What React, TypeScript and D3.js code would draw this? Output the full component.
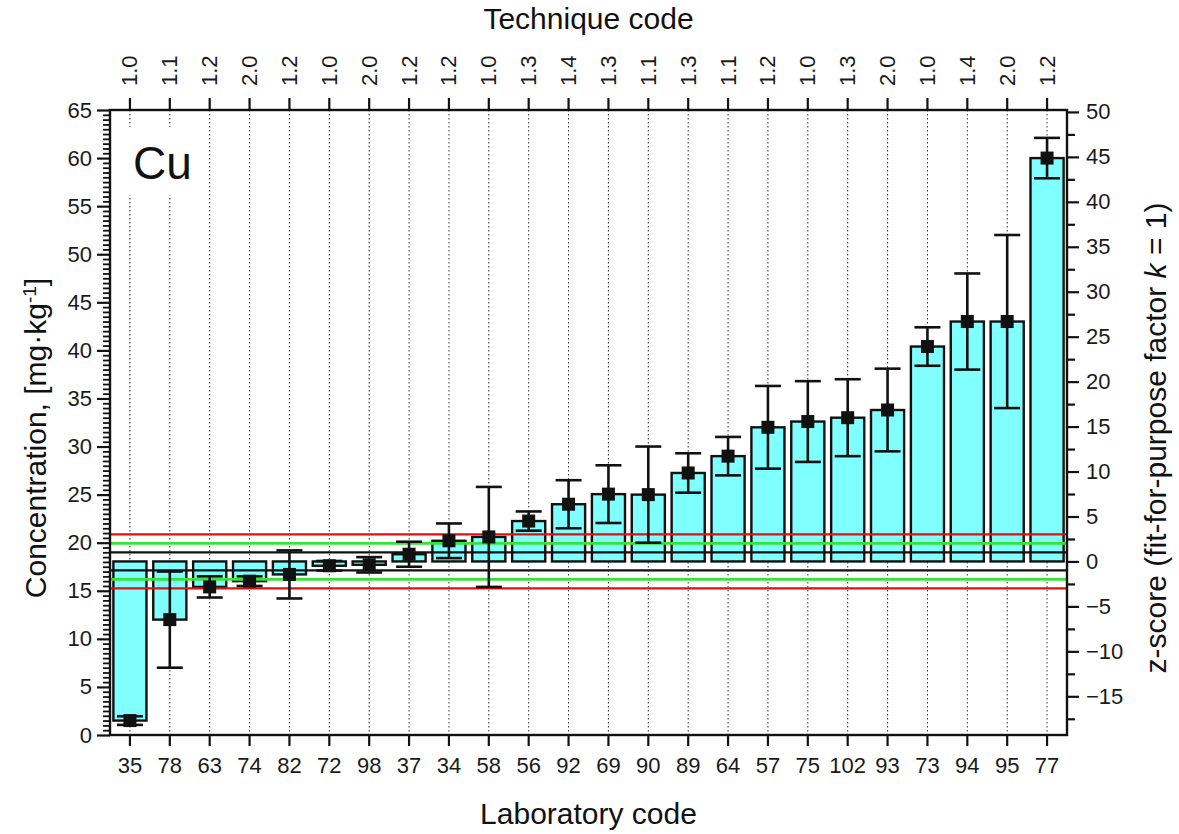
import { useEffect, useRef } from 'react'
import * as d3 from 'd3'

// lab codes along the bottom, sorted by reported result
const LAB_CODES = ['35', '78', '63', '74', '82', '72', '98', '37', '34', '58', '56', '92',
  '69', '90', '89', '64', '57', '75', '102', '93', '73', '94', '95', '77']

// technique code per lab (top axis)
const TECH_CODES = ['1.0', '1.1', '1.2', '2.0', '1.2', '1.0', '2.0', '1.2', '1.2', '1.0', '1.3', '1.4',
  '1.3', '1.1', '1.3', '1.1', '1.2', '1.0', '1.3', '2.0', '1.0', '1.4', '2.0', '1.2']

// reported Cu concentration, mg/kg
const RESULTS = [1.5, 12.0, 15.4, 16.0, 16.7, 17.6, 17.7, 18.8, 20.2, 20.6, 22.25, 24.0,
  25.05, 25.0, 27.25, 29.0, 32.0, 32.6, 33.0, 33.8, 40.4, 43.0, 43.0, 60.0]

// expanded uncertainty reported by each lab
const UNCERTAINTY = [0.45, 5.0, 1.1, 0.5, 2.5, 0.5, 0.8, 1.3, 1.8, 5.2, 1.0, 2.5,
  3.0, 5.0, 2.05, 2.0, 4.3, 4.2, 4.0, 4.3, 2.0, 5.0, 9.0, 2.1]

const ASSIGNED = 18.05   // assigned value (z = 0)
const SIGMA = 0.935      // standard deviation for proficiency assessment

// horizontal reference lines, in z units
const REF_Z = [1, 2, 3]
const REF_COLOR = ['#111111', '#36e436', '#e01010']

const CONC_TICKS = d3.range(0, 66, 5)
const Z_TICKS = d3.range(-15, 51, 5)

export default function App() {
  const svgRef = useRef<SVGSVGElement>(null)
  const WIDTH = 1179
  const HEIGHT = 834
  const L = 110, R = 1067, T = 110, B = 735

  useEffect(() => {
    if (!svgRef.current) return
    const svg = d3.select(svgRef.current)
    svg.selectAll('*').remove()
    const font = '"Liberation Sans", Arial, sans-serif'

    const x = d3.scaleBand<string>().domain(LAB_CODES).range([L, R])
      .paddingInner(0.17).paddingOuter(0.085)
    const y = d3.scaleLinear().domain([0, 65]).range([B, T])
    const z = d3.scaleLinear()
      .domain([(0 - ASSIGNED) / SIGMA, (65 - ASSIGNED) / SIGMA])
      .range([B, T])
    const cx = (c: string) => (x(c) ?? 0) + x.bandwidth() / 2
    const y0 = y(ASSIGNED)

    // dotted verticals at each lab
    LAB_CODES.forEach(c => {
      svg.append('line').attr('x1', cx(c)).attr('x2', cx(c)).attr('y1', T).attr('y2', B)
        .attr('stroke', '#444').attr('stroke-width', 1.1).attr('stroke-dasharray', '1.5 2.5')
    })

    // element label with white background
    svg.append('rect').attr('x', 118).attr('y', 127).attr('width', 84).attr('height', 68)
      .attr('fill', '#fff')
    svg.append('text').attr('x', 133).attr('y', 179).attr('font-family', font)
      .attr('font-size', 46).attr('fill', '#111').text('Cu')

    // bars from assigned value
    LAB_CODES.forEach((c, i) => {
      const yv = y(RESULTS[i])
      svg.append('rect')
        .attr('x', x(c)!).attr('width', x.bandwidth())
        .attr('y', Math.min(yv, y0)).attr('height', Math.abs(yv - y0))
        .attr('fill', '#80ffff').attr('stroke', '#111').attr('stroke-width', 2.4)
    })

    // reference lines: ±1, ±2, ±3 z
    REF_Z.forEach((zz, k) => {
      ;[zz, -zz].forEach(v => {
        svg.append('line').attr('x1', L).attr('x2', R).attr('y1', z(v)).attr('y2', z(v))
          .attr('stroke', REF_COLOR[k]).attr('stroke-width', k === 1 ? 2.8 : 2.3)
      })
    })

    // error bars + markers
    LAB_CODES.forEach((c, i) => {
      const px = cx(c)
      const hi = y(RESULTS[i] + UNCERTAINTY[i])
      const lo = y(RESULTS[i] - UNCERTAINTY[i])
      const eb = svg.append('g').attr('stroke', '#111').attr('stroke-width', 2.6)
      eb.append('line').attr('x1', px).attr('x2', px).attr('y1', hi).attr('y2', lo)
      eb.append('line').attr('x1', px - 13).attr('x2', px + 13).attr('y1', hi).attr('y2', hi)
      eb.append('line').attr('x1', px - 13).attr('x2', px + 13).attr('y1', lo).attr('y2', lo)
      svg.append('rect').attr('x', px - 6.5).attr('y', y(RESULTS[i]) - 6.5)
        .attr('width', 13).attr('height', 13).attr('fill', '#111')
    })

    // frame
    svg.append('rect').attr('x', L).attr('y', T).attr('width', R - L).attr('height', B - T)
      .attr('fill', 'none').attr('stroke', '#111').attr('stroke-width', 2.4)

    const styleAxis = (g: d3.Selection<SVGGElement, unknown, null, undefined>, w: number) => {
      g.attr('font-family', font).attr('font-size', 22)
      g.select('.domain').remove()
      g.selectAll('.tick line').attr('stroke', '#111').attr('stroke-width', w)
      g.selectAll('.tick text').attr('fill', '#1a1a1a')
    }

    // left axis
    svg.append('g').attr('transform', `translate(${L},0)`)
      .call(d3.axisLeft(y).tickValues(d3.range(0.5, 65, 0.5).filter(v => v % 5 !== 0))
        .tickSize(7).tickFormat(() => ''))
      .call(g => styleAxis(g, 1.8))
    svg.append('g').attr('transform', `translate(${L},0)`)
      .call(d3.axisLeft(y).tickValues(CONC_TICKS).tickSize(13).tickPadding(5))
      .call(g => styleAxis(g, 2.2))

    // right axis (z-score)
    svg.append('g').attr('transform', `translate(${R},0)`)
      .call(d3.axisRight(z).tickValues(d3.range(-17.5, 50, 5)).tickSize(8).tickFormat(() => ''))
      .call(g => styleAxis(g, 2.2))
    svg.append('g').attr('transform', `translate(${R},0)`)
      .call(d3.axisRight(z).tickValues(Z_TICKS).tickSize(12).tickPadding(7))
      .call(g => styleAxis(g, 2.2))

    // bottom axis
    svg.append('g').attr('transform', `translate(0,${B})`)
      .call(d3.axisBottom(x).tickSize(11).tickPadding(11))
      .call(g => styleAxis(g, 2.2))

    // top axis: technique codes
    svg.append('g').attr('transform', `translate(0,${T})`)
      .call(d3.axisTop(x).tickSize(12).tickFormat((_, i) => TECH_CODES[i]))
      .call(g => styleAxis(g, 2.2))
      .call(g => g.selectAll('.tick text')
        .attr('y', 0).attr('dy', null).attr('x', 24)
        .attr('transform', 'rotate(-90)')
        .attr('text-anchor', 'start').attr('dominant-baseline', 'central'))

    // titles
    svg.append('text').attr('x', (L + R) / 2).attr('y', 29).attr('text-anchor', 'middle')
      .attr('font-family', font).attr('font-size', 30).attr('fill', '#111').text('Technique code')
    svg.append('text').attr('x', (L + R) / 2).attr('y', 824).attr('text-anchor', 'middle')
      .attr('font-family', font).attr('font-size', 30).attr('fill', '#111').text('Laboratory code')

    const yl = svg.append('text').attr('transform', 'translate(46,438) rotate(-90)')
      .attr('text-anchor', 'middle').attr('font-family', font).attr('font-size', 30).attr('fill', '#111')
    yl.append('tspan').text('Concentration, [mg·kg')
    yl.append('tspan').attr('font-size', 19).attr('baseline-shift', 'super').text('-1')
    yl.append('tspan').text(']')

    const zl = svg.append('text').attr('transform', 'translate(1166,438) rotate(-90)')
      .attr('text-anchor', 'middle').attr('font-family', font).attr('font-size', 30).attr('fill', '#111')
    zl.append('tspan').text('z-score (fit-for-purpose factor ')
    zl.append('tspan').attr('font-style', 'italic').text('k')
    zl.append('tspan').text(' = 1)')
  }, [])

  return (
    <svg
      ref={svgRef}
      width={WIDTH}
      height={HEIGHT}
      style={{ position: 'absolute', left: 0, top: 0, background: '#fff' }}
    />
  )
}
